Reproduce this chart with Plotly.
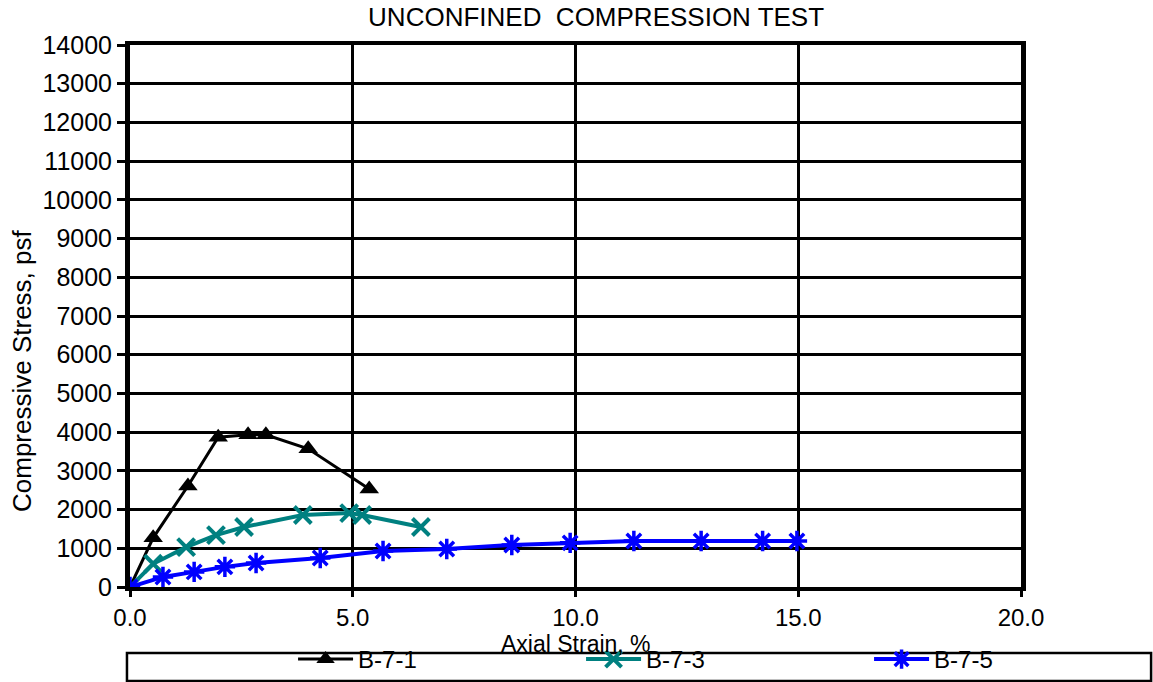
import plotly.graph_objects as go

# B-7-1
x1 = [0.0, 0.52, 1.30, 1.98, 2.65, 3.05, 4.00, 5.37]
y1 = [0, 1270, 2610, 3870, 3930, 3930, 3570, 2530]
# B-7-3
x3 = [0.0, 0.52, 1.26, 1.93, 2.56, 3.88, 4.92, 5.21, 6.53]
y3 = [0, 600, 1030, 1340, 1550, 1860, 1910, 1860, 1550]
# B-7-5
x5 = [0.0, 0.74, 1.44, 2.13, 2.83, 4.27, 5.68, 7.11, 8.57, 9.88, 11.31, 12.82, 14.20, 14.97]
y5 = [0, 260, 390, 520, 620, 750, 930, 980, 1085, 1140, 1190, 1190, 1190, 1190]

names = ["B-7-1", "B-7-3", "B-7-5"]
colors = ["#000000", "#008080", "#0000FF"]

FONT = "Liberation Sans, Arial, sans-serif"

fig = go.Figure()
fig.add_trace(go.Scatter(x=x1, y=y1, name=names[0], mode="lines+markers",
                         line=dict(color=colors[0], width=3),
                         marker=dict(symbol="triangle-up", size=17, color=colors[0])))
fig.add_trace(go.Scatter(x=x3, y=y3, name=names[1], mode="lines+markers",
                         line=dict(color=colors[1], width=4),
                         marker=dict(symbol="x-thin-open", size=17, color=colors[1],
                                     line=dict(color=colors[1], width=4))))
fig.add_trace(go.Scatter(x=x5, y=y5, name=names[2], mode="lines+markers", legendwidth=80,
                         line=dict(color=colors[2], width=4),
                         marker=dict(symbol="asterisk-open", size=17, color=colors[2],
                                     line=dict(color=colors[2], width=3.5))))

fig.update_layout(
    width=1153, height=682,
    margin=dict(l=130, r=132, t=45, b=95),
    paper_bgcolor="white", plot_bgcolor="white",
    font=dict(family=FONT, color="black", size=24),
    title=dict(text="UNCONFINED  COMPRESSION TEST", x=0.517, xanchor="center",
               y=0.975, yanchor="middle", font=dict(size=26, family=FONT)),
    xaxis=dict(range=[0, 20], dtick=5, tickformat=".1f", automargin=False,
               showgrid=True, gridcolor="black", gridwidth=3,
               showline=True, linecolor="black", linewidth=4, mirror=True,
               ticks="outside", ticklen=6, tickwidth=3, tickcolor="black",
               zeroline=False, tickfont=dict(size=24)),
    yaxis=dict(range=[0, 14000], dtick=1000, tickformat="d", automargin=False,
               showgrid=True, gridcolor="black", gridwidth=3,
               showline=True, linecolor="black", linewidth=5, mirror=True,
               ticks="outside", ticklen=8, tickwidth=3, tickcolor="black",
               zeroline=False, tickfont=dict(size=25)),
    legend=dict(orientation="h", xref="paper", x=0.183, xanchor="left",
                yref="container", y=-0.022, yanchor="bottom",
                entrywidth=218, entrywidthmode="pixels", itemwidth=55,
                font=dict(size=24, family=FONT), bgcolor="rgba(0,0,0,0)",
                borderwidth=0),
    showlegend=True,
)

# axis titles
fig.add_annotation(text="Axial Strain, %", xref="paper", yref="paper",
                   x=0.5, y=(587 - 644) / 542, xanchor="center", yanchor="middle",
                   showarrow=False, font=dict(size=23, family=FONT))
fig.add_annotation(text="Compressive Stress, psf", xref="paper", yref="paper",
                   x=(22 - 130) / 891, y=(587 - 371) / 542, xanchor="center", yanchor="middle",
                   textangle=-90, showarrow=False, font=dict(size=26, family=FONT))

# legend frame
fig.add_shape(type="rect", xref="paper", yref="paper",
              x0=-0.0034, x1=1.146, y0=-0.1734, y1=-0.1218,
              line=dict(color="black", width=2.5), fillcolor="rgba(0,0,0,0)", layer="below")

fig.write_html("out.html")
